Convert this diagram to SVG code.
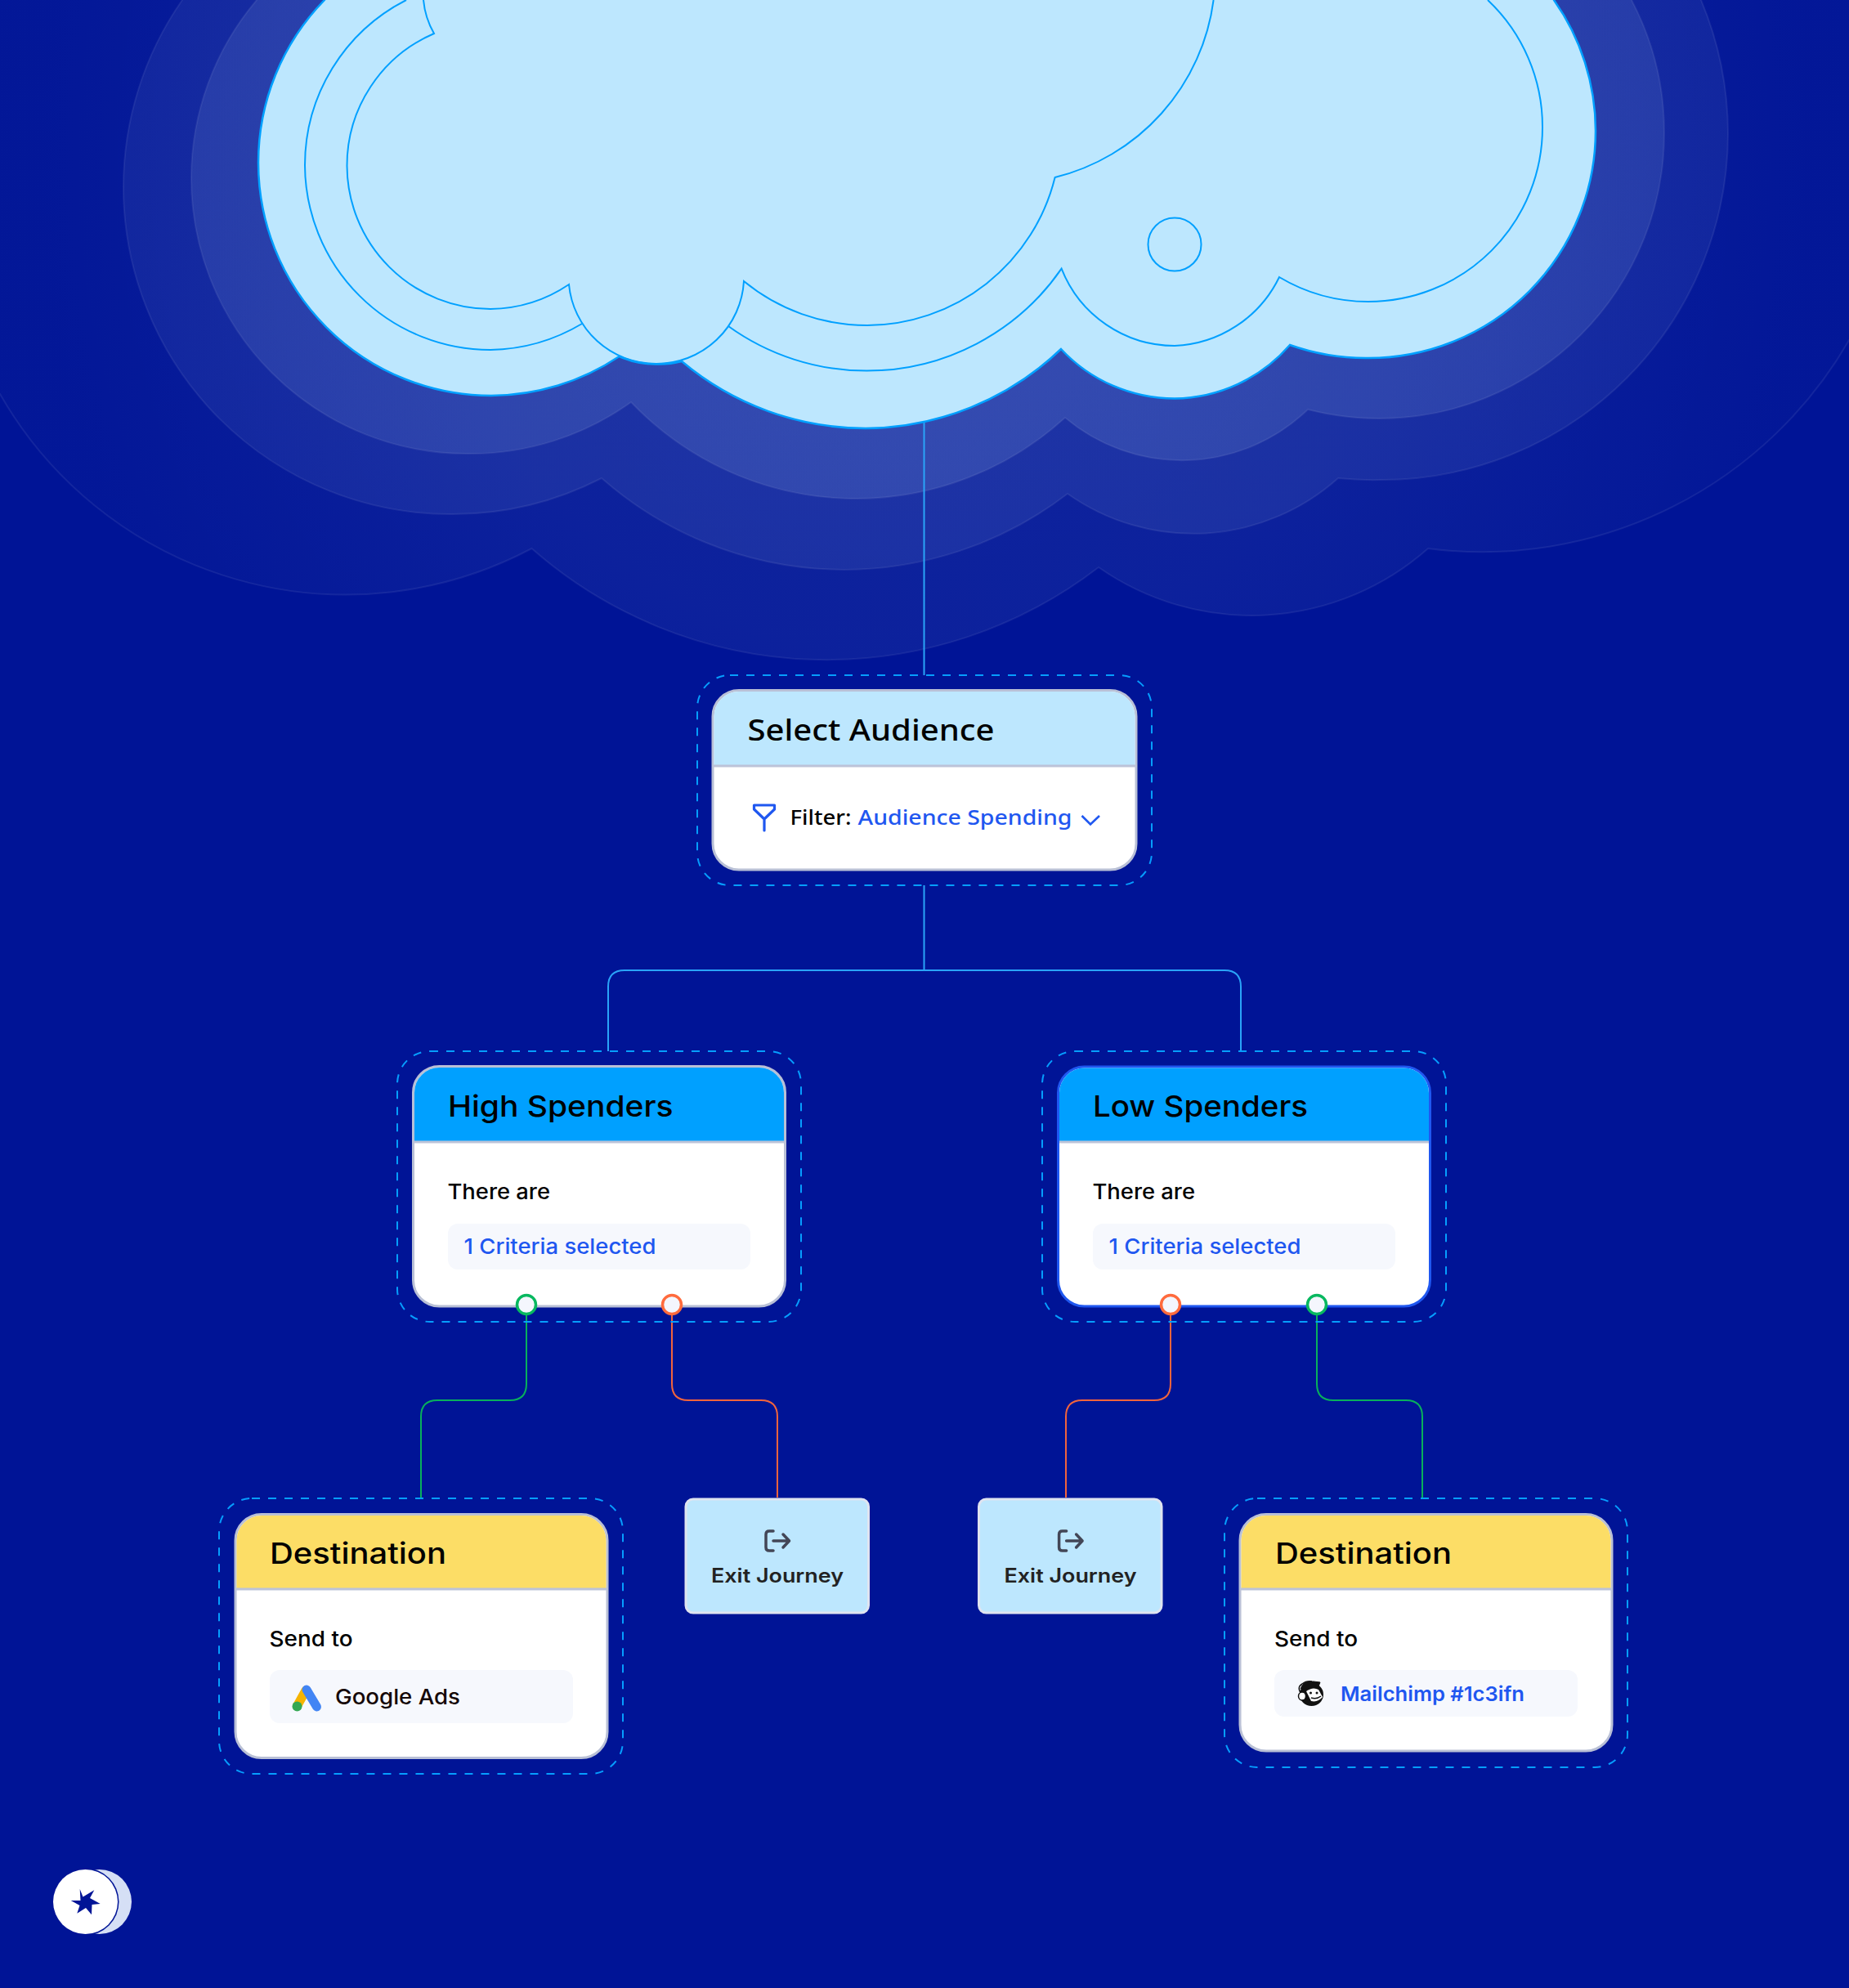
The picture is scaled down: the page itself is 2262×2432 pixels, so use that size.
<svg xmlns="http://www.w3.org/2000/svg" width="2262" height="2432" viewBox="0 0 2262 2432">
<style>
text{font-family:"Inter","Liberation Sans",sans-serif;fill:#000}
.title{font-size:35.5px;font-weight:500}
.body{font-size:26px;font-weight:500}
.blue{fill:#1f57f0}
.sel{font-family:"Noto Sans","Liberation Sans",sans-serif}
.line{fill:none;stroke:#00a0ff;stroke-width:2}
.halo{stroke:#fff;stroke-opacity:.07;stroke-width:2}
.dash{fill:none;stroke:#069eff;stroke-width:2;stroke-dasharray:10 10}
.card{fill:#fff;stroke:#b9c0d6;stroke-width:3}
.cardb{fill:#fff;stroke:#1f57f0;stroke-width:3}
.div{stroke:#bcc3d8;stroke-width:3}
.pill{fill:#f6f8fd}
.conn{fill:none;stroke:#2aa4f8;stroke-width:2}
.g{fill:none;stroke:#08b05c;stroke-width:2}
.o{fill:none;stroke:#f2643c;stroke-width:2}
.pg{fill:#f4f6fd;stroke:#08b85f;stroke-width:3.5}
.po{fill:#f4f6fd;stroke:#ff6b3d;stroke-width:3.5}
.exit{fill:#bde7fe;stroke:#dfe4f0;stroke-width:3}
.exico{fill:none;stroke:#434656;stroke-width:3.5;stroke-linecap:round;stroke-linejoin:round}
.ext{font-size:24px;font-weight:600;fill:#222}
</style>
<defs>
<radialGradient id="g3" gradientUnits="userSpaceOnUse" cx="1130" cy="200" r="1200"><stop offset="0" stop-color="#d0f0ff" stop-opacity=".07"/><stop offset=".5" stop-color="#d0f0ff" stop-opacity=".06"/><stop offset=".9" stop-color="#d0f0ff" stop-opacity=".015"/></radialGradient>
<radialGradient id="g2" gradientUnits="userSpaceOnUse" cx="1130" cy="200" r="1200"><stop offset="0" stop-color="#d0f0ff" stop-opacity=".09"/><stop offset=".9" stop-color="#d0f0ff" stop-opacity=".06"/></radialGradient>
<radialGradient id="g1" gradientUnits="userSpaceOnUse" cx="1130" cy="200" r="1200"><stop offset="0" stop-color="#d0f0ff" stop-opacity=".135"/><stop offset=".9" stop-color="#d0f0ff" stop-opacity=".09"/></radialGradient>
</defs>
<rect width="2262" height="2432" fill="#001496"/>
<g id="halos">
<path class="halo" fill="url(#g3)" d="M-3 -5 L-3 482 L0 482 A487 487 0 0 0 650.5 671 A546 546 0 0 0 1344 694 A326 326 0 0 0 1747 671 A518 518 0 0 0 2265 411 L2265 -5 Z"/>
<path class="halo" fill="url(#g2)" d="M223 -5 L223 0 A400 400 0 0 0 151 229 A400 400 0 0 0 551 629 A400 400 0 0 0 736 585 A449 449 0 0 0 1306 604 A266 266 0 0 0 1637 585 A424 424 0 0 0 1690 587 A424 424 0 0 0 2114 163 A424 424 0 0 0 2081 0 L2081 -5 Z"/>
<path class="halo" fill="url(#g1)" d="M314 -5 L314 0 A337 337 0 0 0 234 218 A337 337 0 0 0 571 555 A337 337 0 0 0 772 492 A380 380 0 0 0 1303 511 A222 222 0 0 0 1600 501 A349 349 0 0 0 1687 512 A349 349 0 0 0 2036 163 A349 349 0 0 0 1996 0 L1996 -5 Z"/>
</g>
<g id="connectors">
<path class="conn" d="M1130.5 510V826M1130.5 1083V1187M744 1286V1207Q744 1187 764 1187H1498Q1518 1187 1518 1207V1286"/>
<path class="g" d="M644 1608V1693Q644 1713 624 1713H535Q515 1713 515 1733V1833"/>
<path class="o" d="M822 1608V1693Q822 1713 842 1713H931Q951 1713 951 1733V1832"/>
<path class="o" d="M1432 1608V1693Q1432 1713 1412 1713H1324Q1304 1713 1304 1733V1832"/>
<path class="g" d="M1611 1608V1693Q1611 1713 1631 1713H1720Q1740 1713 1740 1733V1833"/>
</g>
<g id="cloud">
<path fill="#bde7fe" stroke="#00a0ff" stroke-width="2.5" d="M397 -5 L397 0 A285 285 0 0 0 316 199 A285 285 0 0 0 601 484 A285 285 0 0 0 757.6 436 A108 108 0 0 0 803 445.500 A108 108 0 0 0 834 442 A350 350 0 0 0 1059 524 A350 350 0 0 0 1298 427 A190 190 0 0 0 1437 487.500 A190 190 0 0 0 1578 422 A278 278 0 0 0 1674 438 A278 278 0 0 0 1952 160 A278 278 0 0 0 1901 0 L1901 -5 Z"/>
<path class="line" d="M518 0Q520 22 531 41A176 176 0 0 0 424.500 203A176 176 0 0 0 600 378A176 176 0 0 0 696 348A107 107 0 0 0 803 445A107 107 0 0 0 910 344A238 238 0 0 0 1061 398A238 238 0 0 0 1290.600 217A258 258 0 0 0 1484.600 0"/>
<path class="line" d="M497 0A227 227 0 0 0 373 202A227 227 0 0 0 600 428A227 227 0 0 0 712 396"/>
<path class="line" d="M891 399A289 289 0 0 0 1060 453.600A289 289 0 0 0 1298.600 328.600A149 149 0 0 0 1437 423A149 149 0 0 0 1565 339A213 213 0 0 0 1674 369A213 213 0 0 0 1887 156A213 213 0 0 0 1820 0"/>
<circle class="line" cx="1437" cy="299" r="32.500"/>
</g>
<g id="select-audience">
<rect class="dash" x="853" y="826" width="556" height="257" rx="40"/>
<rect class="card" x="872" y="844.500" width="518" height="219.500" rx="32"/>
<path fill="#bde7fe" d="M873.500 937V876.500A30.500 30.500 0 0 1 904 846H1358A30.500 30.500 0 0 1 1388.500 876.500V937Z"/>
<path class="div" d="M872 937H1390"/>
<text class="sel title" x="914.500" y="906" style="font-size:37px" textLength="302" lengthAdjust="spacingAndGlyphs">Select Audience</text>
<path fill="none" stroke="#1f57f0" stroke-width="3.200" stroke-linejoin="round" stroke-linecap="round" d="M922.500 985H947.500V990L935 1002L922.500 990ZM935 1002V1016"/>
<text class="sel" x="966.500" y="1009" font-size="26" font-weight="500" textLength="75" lengthAdjust="spacingAndGlyphs">Filter:</text>
<text class="sel blue" x="1049.500" y="1009" font-size="26" font-weight="500" textLength="262" lengthAdjust="spacingAndGlyphs">Audience Spending</text>
<path fill="none" stroke="#1f57f0" stroke-width="2.600" d="M1323.500 998L1334 1008.500L1345 998"/>
</g>
<g id="high-spenders">
<rect class="dash" x="486" y="1286" width="494" height="331" rx="40"/>
<rect class="card" x="505.500" y="1304.500" width="455" height="293.500" rx="32"/>
<path fill="#00a0ff" d="M507 1397V1336.500A30.500 30.500 0 0 1 537.500 1306H928.500A30.500 30.500 0 0 1 959 1336.500V1397Z"/>
<path class="div" d="M505.500 1397H960.500"/>
<text class="title" x="548" y="1366" textLength="275.500" lengthAdjust="spacingAndGlyphs">High Spenders</text>
<text class="body" x="547.500" y="1467" textLength="125.500" lengthAdjust="spacingAndGlyphs">There are</text>
<rect class="pill" x="548" y="1497" width="370" height="56" rx="12"/>
<text class="body blue" x="567.500" y="1534" textLength="235" lengthAdjust="spacingAndGlyphs">1 Criteria selected</text>
<circle class="pg" cx="644" cy="1596" r="11.500"/>
<circle class="po" cx="822" cy="1596" r="11.500"/>
</g>
<g id="low-spenders">
<rect class="dash" x="1275" y="1286" width="494" height="331" rx="40"/>
<rect class="cardb" x="1294.500" y="1305" width="455" height="293" rx="32"/>
<path fill="#00a0ff" d="M1296 1397V1337A30.500 30.500 0 0 1 1326.500 1306.500H1717.500A30.500 30.500 0 0 1 1748 1337V1397Z"/>
<path class="div" d="M1296 1397H1748"/>
<text class="title" x="1337" y="1366" textLength="263" lengthAdjust="spacingAndGlyphs">Low Spenders</text>
<text class="body" x="1336.500" y="1467" textLength="125.500" lengthAdjust="spacingAndGlyphs">There are</text>
<rect class="pill" x="1337" y="1497" width="370" height="56" rx="12"/>
<text class="body blue" x="1356.500" y="1534" textLength="235" lengthAdjust="spacingAndGlyphs">1 Criteria selected</text>
<circle class="po" cx="1432" cy="1596" r="11.500"/>
<circle class="pg" cx="1611" cy="1596" r="11.500"/>
</g>
<g id="destination-google">
<rect class="dash" x="268" y="1833" width="494" height="337" rx="40"/>
<rect class="card" x="288" y="1852.500" width="455" height="298" rx="32"/>
<path fill="#fcdd66" d="M289.500 1944V1884.500A30.500 30.500 0 0 1 320 1854H711A30.500 30.500 0 0 1 741.500 1884.500V1944Z"/>
<path class="div" d="M288 1944H743"/>
<text class="title" x="330" y="1913" textLength="216" lengthAdjust="spacingAndGlyphs">Destination</text>
<text class="body" x="329.500" y="2014" textLength="102" lengthAdjust="spacingAndGlyphs">Send to</text>
<rect class="pill" x="330" y="2043" width="371" height="65" rx="12"/>
<path stroke="#f5b400" stroke-width="11" stroke-linecap="round" d="M363.500 2087L374 2068"/>
<path stroke="#4285f4" stroke-width="11" stroke-linecap="round" d="M375 2067L387.500 2088"/>
<circle cx="363.500" cy="2087.500" r="6" fill="#34a853"/>
<text class="body" x="410" y="2085" style="fill:#150808" textLength="153" lengthAdjust="spacingAndGlyphs">Google Ads</text>
</g>
<g id="exit-journey-1">
<rect class="exit" x="839" y="1834" width="223.500" height="139" rx="9"/>
<path class="exico" d="M946 1873H941Q937 1873 937 1877V1893Q937 1897 941 1897H946M946 1885H965M958 1877L965.500 1885L958 1893"/>
<text class="ext" x="870" y="1936" textLength="162" lengthAdjust="spacingAndGlyphs">Exit Journey</text>
</g>
<g id="exit-journey-2">
<rect class="exit" x="1197.500" y="1834" width="223.500" height="139" rx="9"/>
<path class="exico" d="M1304.600 1873H1299.600Q1295.600 1873 1295.600 1877V1893Q1295.600 1897 1299.600 1897H1304.600M1304.600 1885H1323.600M1316.600 1877L1324.100 1885L1316.600 1893"/>
<text class="ext" x="1228.500" y="1936" textLength="162" lengthAdjust="spacingAndGlyphs">Exit Journey</text>
</g>
<g id="destination-mailchimp">
<rect class="dash" x="1498" y="1833" width="493" height="329" rx="40"/>
<rect class="card" x="1517" y="1852.500" width="455" height="289.500" rx="32"/>
<path fill="#fcdd66" d="M1518.500 1944V1884.500A30.500 30.500 0 0 1 1549 1854H1940A30.500 30.500 0 0 1 1970.500 1884.500V1944Z"/>
<path class="div" d="M1517 1944H1972"/>
<text class="title" x="1560" y="1913" textLength="216" lengthAdjust="spacingAndGlyphs">Destination</text>
<text class="body" x="1559" y="2014" textLength="102" lengthAdjust="spacingAndGlyphs">Send to</text>
<rect class="pill" x="1559" y="2043" width="371" height="57" rx="12"/>
<ellipse cx="1604.500" cy="2073" rx="14.500" ry="14" fill="#111"/>
<path fill="#111" stroke="#111" stroke-width="1" d="M1591 2066Q1594 2056 1607 2057L1615 2058L1613 2063L1598 2066Z"/>
<path fill="none" stroke="#111" stroke-width="1.500" d="M1592 2072Q1586 2064 1593 2060Q1598 2056 1605 2057"/>
<ellipse cx="1593" cy="2075" rx="4.500" ry="5" fill="#fff" stroke="#111" stroke-width="1.500"/>
<path fill="#fff" d="M1598 2069Q1606 2063 1613 2067L1618 2076Q1612 2083 1604 2081Q1601 2075 1598 2069Z"/>
<circle cx="1603.500" cy="2071" r="1.500" fill="#111"/><circle cx="1611" cy="2071" r="1.500" fill="#111"/>
<path fill="none" stroke="#111" stroke-width="1.500" d="M1604 2077Q1611 2079 1616 2075"/>
<text class="blue" x="1640" y="2081" font-size="24.500" font-weight="600" textLength="225" lengthAdjust="spacingAndGlyphs">Mailchimp #1c3ifn</text>
</g>
<g id="logo">
<circle cx="121.500" cy="2326.500" r="39.500" fill="#d5dff5"/>
<circle cx="104.500" cy="2326.500" r="41" fill="#001496"/>
<circle cx="104.500" cy="2326.500" r="39.500" fill="#fff"/>
<path fill="#001496" d="M97.700 2311L101.500 2320.500L115.300 2312.300L110 2322L122.700 2329L112.500 2330L112 2342.300L105 2334L94.300 2340.700L97.500 2331L86.700 2325L98.500 2325Z"/>
</g>
</svg>
